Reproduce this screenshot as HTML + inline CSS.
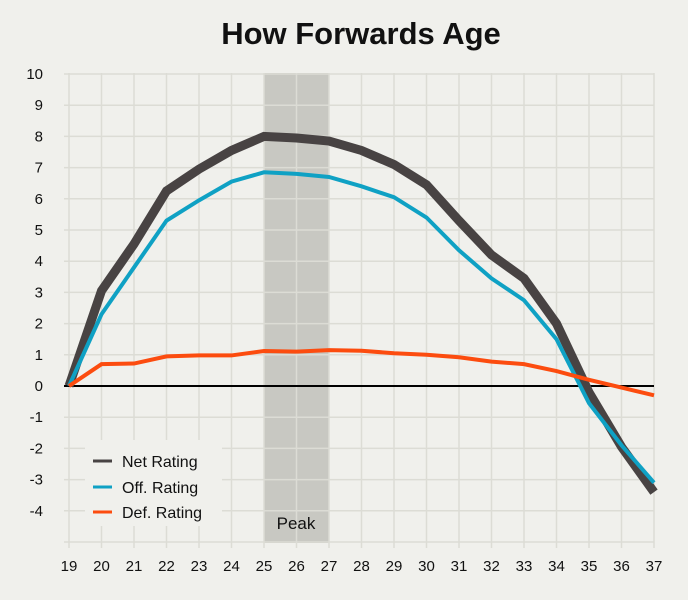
<!DOCTYPE html><html><head><meta charset="utf-8"><style>body{margin:0;background:#f0f0ec}svg{display:block}text{font-family:"Liberation Sans",sans-serif;fill:#111}</style></head><body>
<svg width="688" height="600" xmlns="http://www.w3.org/2000/svg">
<rect width="688" height="600" fill="#f0f0ec"/>
<text x="361" y="44" font-size="31" font-weight="bold" text-anchor="middle">How Forwards Age</text>
<rect x="264" y="73" width="65" height="470" fill="#c8c8c2"/>
<g id="grid" stroke="#dcdcd5" stroke-width="1.5"></g>
<g id="lab" font-size="15"></g>
<line x1="64" x2="654" y1="386" y2="386" stroke="#000" stroke-width="2"/>
<rect x="85" y="440" width="137" height="86" fill="#f0f0ec"/>
<g id="lines" fill="none" stroke-linejoin="miter"></g>
<text x="296" y="529" font-size="17" text-anchor="middle">Peak</text>
<g font-size="16">
<line x1="93" x2="112" y1="461" y2="461" stroke="#484343" stroke-width="3"/><text x="122" y="467">Net Rating</text>
<line x1="93" x2="112" y1="487" y2="487" stroke="#0fa1c4" stroke-width="3"/><text x="122" y="493">Off. Rating</text>
<line x1="93" x2="112" y1="512" y2="512" stroke="#fc4c0f" stroke-width="3"/><text x="122" y="518">Def. Rating</text>
</g>
</svg>
<script>
const X=y=>69+(y-19)*32.5, Y=v=>386-v*31.2, ns="http://www.w3.org/2000/svg";
const g=document.getElementById('grid'),l=document.getElementById('lab'),ln=document.getElementById('lines');
function el(p,t,a,txt){const e=document.createElementNS(ns,t);for(const k in a)e.setAttribute(k,a[k]);if(txt!=null)e.textContent=txt;p.appendChild(e);return e}
for(let y=19;y<=37;y++){el(g,'line',{x1:X(y),x2:X(y),y1:73,y2:548});el(l,'text',{x:X(y),y:571,'text-anchor':'middle'},y)}
for(let v=-5;v<=10;v++){el(g,'line',{x1:64,x2:654,y1:Y(v),y2:Y(v)});if(v>-5)el(l,'text',{x:43,y:Y(v)+5,'text-anchor':'end'},v)}
const net=[0,3.05,4.55,6.25,6.95,7.55,8.0,7.95,7.85,7.55,7.1,6.45,5.3,4.2,3.45,2.0,-0.2,-1.95,-3.4];
const off=[0,2.3,3.8,5.3,5.95,6.55,6.85,6.8,6.7,6.4,6.05,5.4,4.35,3.45,2.75,1.5,-0.55,-1.9,-3.1];
const def=[0,0.7,0.72,0.95,0.98,0.98,1.12,1.1,1.15,1.13,1.05,1.0,0.92,0.78,0.7,0.48,0.2,-0.05,-0.3];
[[net,'#484343',9],[off,'#0fa1c4',4],[def,'#fc4c0f',4]].forEach(([d,c,w])=>el(ln,'polyline',{points:d.map((v,i)=>X(19+i)+','+Y(v)).join(' '),stroke:c,'stroke-width':w}));
</script>
</body></html>
